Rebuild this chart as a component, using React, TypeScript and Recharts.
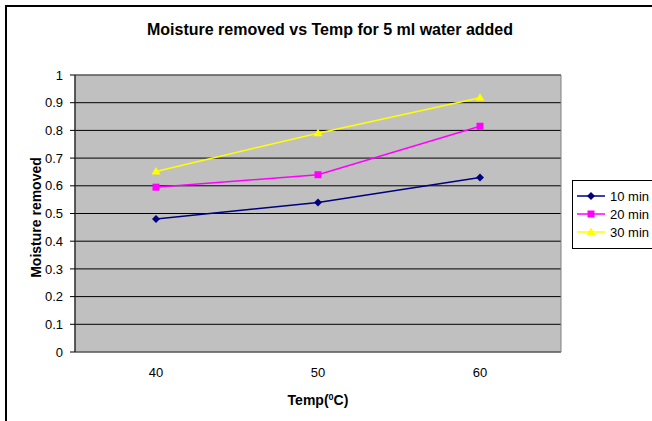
import {
  CartesianGrid,
  Label,
  Legend,
  Line,
  LineChart,
  ReferenceArea,
  XAxis,
  YAxis,
} from "recharts";

const temps = [40, 50, 60];
const tempEdges = [35, 45, 55, 65];
const moisture10 = [0.48, 0.54, 0.63];
const moisture20 = [0.595, 0.64, 0.815];
const moisture30 = [0.652, 0.79, 0.918];
const yTicks = [0, 0.1, 0.2, 0.3, 0.4, 0.5, 0.6, 0.7, 0.8, 0.9, 1];
const seriesNames = ["10 min", "20 min", "30 min"];
const seriesColors = ["#000080", "#FF00FF", "#FFFF00"];
const seriesShapes = ["diamond", "square", "triangle"];

const chartData = temps.map((temp, i) => ({
  temp,
  m10: moisture10[i],
  m20: moisture20[i],
  m30: moisture30[i],
}));

const FONT = '"Liberation Sans", Arial, sans-serif';

function Marker({
  cx,
  cy,
  shape,
  color,
}: {
  cx: number;
  cy: number;
  shape: string;
  color: string;
}) {
  if (shape === "diamond") {
    return (
      <polygon
        points={`${cx},${cy - 4} ${cx + 4},${cy} ${cx},${cy + 4} ${cx - 4},${cy}`}
        fill={color}
      />
    );
  }
  if (shape === "square") {
    return (
      <rect x={cx - 3.5} y={cy - 3.5} width={7} height={7} fill={color} />
    );
  }
  return (
    <polygon
      points={`${cx},${cy - 4.5} ${cx + 4.5},${cy + 3} ${cx - 4.5},${cy + 3}`}
      fill={color}
    />
  );
}

const makeDot = (idx: number) => (props: any) => (
  <Marker
    key={props.key ?? `${idx}-${props.index}`}
    cx={props.cx}
    cy={props.cy}
    shape={seriesShapes[idx]}
    color={seriesColors[idx]}
  />
);

const renderLegend = () => (
  <div
    style={{
      border: "1px solid #000",
      background: "#fff",
      padding: "6px 8px 7px 4px",
      fontFamily: FONT,
      fontSize: 13,
      color: "#000",
    }}
  >
    {seriesNames.map((name, i) => (
      <div
        key={name}
        style={{
          display: "flex",
          alignItems: "center",
          height: 18,
          whiteSpace: "nowrap",
        }}
      >
        <svg width={30} height={12}>
          <line
            x1={0}
            y1={6}
            x2={28}
            y2={6}
            stroke={seriesColors[i]}
            strokeWidth={1.5}
          />
          <Marker cx={14} cy={6} shape={seriesShapes[i]} color={seriesColors[i]} />
        </svg>
        <span style={{ marginLeft: 3 }}>{name}</span>
      </div>
    ))}
  </div>
);

export default function App() {
  return (
    <div
      style={{
        position: "absolute",
        left: 0,
        top: 0,
        width: 652,
        height: 421,
        overflow: "hidden",
        background: "#fff",
      }}
    >
      <div
        style={{
          position: "absolute",
          left: 5,
          top: 5,
          width: 700,
          height: 500,
          border: "2px solid #000",
        }}
      />
      <div
        style={{
          position: "absolute",
          left: 0,
          top: 21.5,
          width: 660,
          textAlign: "center",
          fontFamily: FONT,
          fontWeight: "bold",
          fontSize: 16,
          lineHeight: "16px",
          color: "#000",
        }}
      >
        Moisture removed vs Temp for 5 ml water added
      </div>
      <div style={{ position: "absolute", left: 0, top: 0 }}>
        <LineChart
          width={652}
          height={421}
          data={chartData}
          margin={{ top: 75, right: 91, left: 25, bottom: 21 }}
        >
          <CartesianGrid
            xAxisId="edges"
            horizontal={true}
            vertical={false}
            stroke="#000"
            fill="#C0C0C0"
            fillOpacity={1}
          />
          <ReferenceArea
            xAxisId="edges"
            x1={35}
            x2={65}
            y1={0}
            y2={1}
            fill="none"
            stroke="#808080"
            strokeWidth={1}
          />
          <XAxis
            xAxisId="edges"
            type="number"
            dataKey="temp"
            domain={[35, 65]}
            ticks={tempEdges}
            interval={0}
            height={0}
            tickSize={5}
            tick={() => <g />}
            axisLine={{ stroke: "#000" }}
            tickLine={{ stroke: "#000" }}
          />
          <XAxis
            xAxisId="labels"
            type="number"
            dataKey="temp"
            domain={[35, 65]}
            ticks={temps}
            interval={0}
            height={48}
            tickSize={0}
            tickMargin={16}
            axisLine={false}
            tickLine={false}
            tick={{ fill: "#000", fontSize: 13, fontFamily: FONT }}
          >
            <Label
              content={(props: any) => {
                const vb = props.viewBox || { x: 75, y: 352, width: 486 };
                return (
                  <text
                    x={vb.x + vb.width / 2}
                    y={vb.y + 53}
                    textAnchor="middle"
                    fontFamily={FONT}
                    fontWeight="bold"
                    fontSize={14}
                    fill="#000"
                  >
                    <tspan>Temp(</tspan>
                    <tspan dy={-5} fontSize={9}>
                      0
                    </tspan>
                    <tspan dy={5}>C)</tspan>
                  </text>
                );
              }}
            />
          </XAxis>
          <YAxis
            domain={[0, 1]}
            ticks={yTicks}
            interval={0}
            width={50}
            tickSize={5}
            tickMargin={7}
            axisLine={{ stroke: "#000" }}
            tickLine={{ stroke: "#000" }}
            tick={{ fill: "#000", fontSize: 13, fontFamily: FONT }}
          >
            <Label
              content={(props: any) => {
                const vb = props.viewBox || { x: 25, y: 75, height: 277 };
                const x = vb.x + 16;
                const y = vb.y + vb.height / 2 + 4;
                return (
                  <text
                    x={x}
                    y={y}
                    transform={`rotate(-90 ${x} ${y})`}
                    textAnchor="middle"
                    fontFamily={FONT}
                    fontWeight="bold"
                    fontSize={14}
                    fill="#000"
                  >
                    Moisture removed
                  </text>
                );
              }}
            />
          </YAxis>
          <Legend
            layout="vertical"
            align="center"
            verticalAlign="middle"
            content={renderLegend}
            wrapperStyle={{ left: 572, top: 180, width: 110 }}
          />
          <Line
            xAxisId="edges"
            dataKey="m10"
            name={seriesNames[0]}
            stroke={seriesColors[0]}
            strokeWidth={1.5}
            dot={makeDot(0)}
            isAnimationActive={false}
          />
          <Line
            xAxisId="edges"
            dataKey="m20"
            name={seriesNames[1]}
            stroke={seriesColors[1]}
            strokeWidth={1.5}
            dot={makeDot(1)}
            isAnimationActive={false}
          />
          <Line
            xAxisId="edges"
            dataKey="m30"
            name={seriesNames[2]}
            stroke={seriesColors[2]}
            strokeWidth={1.5}
            dot={makeDot(2)}
            isAnimationActive={false}
          />
        </LineChart>
      </div>
    </div>
  );
}
